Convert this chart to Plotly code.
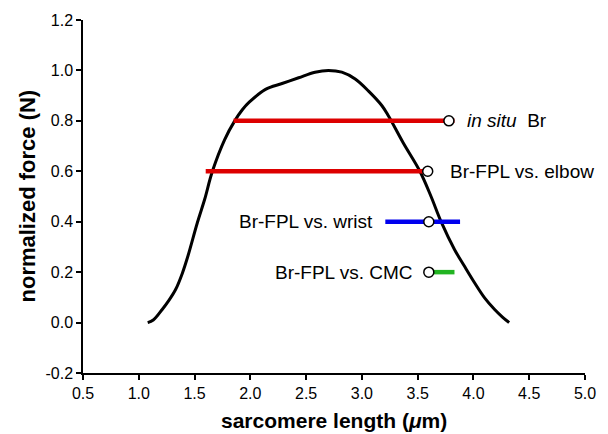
import plotly.graph_objects as go

# sarcomere length-tension curve
curve_x = [1.08, 1.13, 1.21, 1.27, 1.33, 1.39, 1.44, 1.525, 1.59, 1.66, 1.77, 1.86, 1.93, 1.99,
           2.136, 2.284, 2.433, 2.58, 2.70, 2.82, 2.94, 3.06, 3.18, 3.24, 3.37, 3.52, 3.62,
           3.71, 3.83, 3.92, 4.01, 4.10, 4.19, 4.26, 4.32]
curve_y = [0.0, 0.01, 0.052, 0.088, 0.131, 0.195, 0.263, 0.396, 0.488, 0.60, 0.726, 0.80, 0.845, 0.874,
           0.925, 0.948, 0.971, 0.993, 1.0, 0.993, 0.966, 0.918, 0.860, 0.818, 0.713, 0.60, 0.50,
           0.40, 0.29, 0.223, 0.158, 0.098, 0.052, 0.022, 0.0]

# operating ranges
range_names = ["<i>in situ</i>  Br", "Br-FPL vs. elbow", "Br-FPL vs. wrist", "Br-FPL vs. CMC"]
range_force = [0.8, 0.6, 0.4, 0.2]
range_start = [1.85, 1.60, 3.21, 3.60]
range_end = [3.83, 3.59, 3.88, 3.83]
optimum_x = [3.78, 3.59, 3.60, 3.60]
range_colors = ["#dd0000", "#dd0000", "#0000ee", "#22b422"]
label_x = [3.92, 3.77, 3.12, 3.48]
label_anchor = ["left", "left", "right", "right"]

# tick labels
x_ticks = [0.5, 1.0, 1.5, 2.0, 2.5, 3.0, 3.5, 4.0, 4.5, 5.0]
x_ticktext = ["0.5", "1.0", "1.5", "2.0", "2.5", "3.0", "3.5", "4.0", "4.5", "5.0"]
y_ticks = [-0.2, 0.0, 0.2, 0.4, 0.6, 0.8, 1.0, 1.2]
y_ticktext = ["-0.2", "0.0", "0.2", "0.4", "0.6", "0.8", "1.0", "1.2"]

FONT = "Liberation Sans, Arial, Helvetica"

fig = go.Figure()
fig.add_trace(go.Scatter(x=curve_x, y=curve_y, mode="lines",
                         line=dict(color="black", width=3, shape="spline", smoothing=1.0),
                         showlegend=False, hoverinfo="skip"))
for i in range(len(range_names)):
    fig.add_trace(go.Scatter(x=[range_start[i], range_end[i]], y=[range_force[i]] * 2, mode="lines",
                             line=dict(color=range_colors[i], width=4.5), showlegend=False))
fig.add_trace(go.Scatter(x=optimum_x, y=range_force, mode="markers",
                         marker=dict(symbol="circle", size=10, color="white",
                                     line=dict(color="black", width=1.5)),
                         showlegend=False))
for i in range(len(range_names)):
    fig.add_annotation(x=label_x[i], y=range_force[i], text=range_names[i], showarrow=False,
                       xanchor=label_anchor[i], yanchor="middle",
                       font=dict(family=FONT, size=19, color="black"))

fig.add_annotation(x=0.5, y=-0.2, xref="paper", yref="y", text="<b>sarcomere length (<i>μ</i>m)</b>",
                   showarrow=False, yshift=-47, yanchor="middle",
                   font=dict(family=FONT, size=21, color="black"))
fig.add_annotation(x=0.0, y=0.5, xref="paper", yref="paper", text="<b>normalized force (N)</b>",
                   showarrow=False, textangle=-90, xshift=-56, xanchor="center",
                   font=dict(family=FONT, size=22, color="black"))

axis_common = dict(showgrid=False, zeroline=False, showline=True, linecolor="black", linewidth=1.5,
                   ticks="outside", ticklen=5, tickwidth=1.5, tickcolor="black",
                   tickfont=dict(family=FONT, size=16, color="black"), mirror=False)
fig.update_xaxes(range=[0.5, 5.0], tickmode="array", tickvals=x_ticks, ticktext=x_ticktext, **axis_common)
fig.update_yaxes(range=[-0.2, 1.2], tickmode="array", tickvals=y_ticks, ticktext=y_ticktext, **axis_common)
fig.update_layout(width=608, height=434, margin=dict(l=83, r=21, t=20, b=61),
                  plot_bgcolor="white", paper_bgcolor="white")
fig.write_html("out.html", config={"displayModeBar": False},
               post_script="document.body.style.margin='0';document.body.style.overflow='hidden';")
